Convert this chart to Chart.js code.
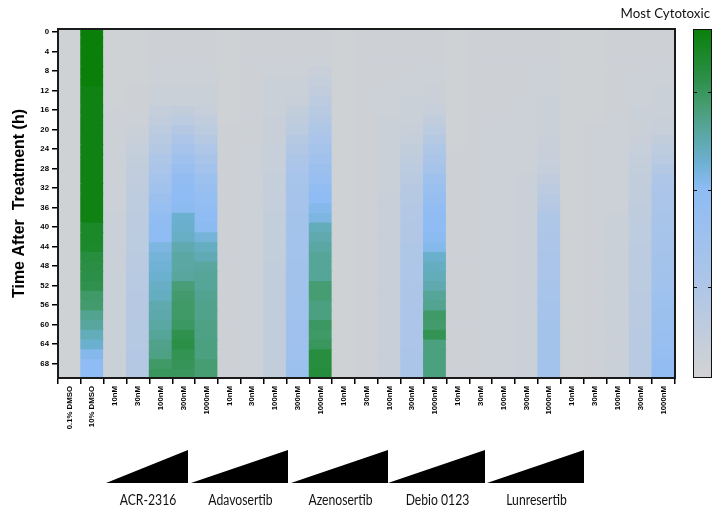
<!DOCTYPE html>
<html>
<head>
<meta charset="utf-8">
<script src="https://cdn.jsdelivr.net/npm/chart.js@4.4.0/dist/chart.umd.min.js"></script>
<style>
  html, body { margin: 0; padding: 0; background: #fff; }
</style>
</head>
<body>
<canvas id="heatmap" width="715" height="513"></canvas>
<script>
// time points (h), one row of cells per point, each row covers 2 h
const timePoints = [0, 2, 4, 6, 8, 10, 12, 14, 16, 18, 20, 22, 24, 26, 28, 30, 32, 34,
                    36, 38, 40, 42, 44, 46, 48, 50, 52, 54, 56, 58, 60, 62, 64, 66, 68, 70];
const timeTicks = [0, 4, 8, 12, 16, 20, 24, 28, 32, 36, 40, 44, 48, 52, 56, 60, 64, 68];

const controls = ['0.1% DMSO', '10% DMSO'];
const drugs = ['ACR-2316', 'Adavosertib', 'Azenosertib', 'Debio 0123', 'Lunresertib'];
const doses = ['10nM', '30nM', '100nM', '300nM', '1000nM'];

// cytotoxicity score, 0 = none, 100 = most cytotoxic
const dmsoLow = [3,3,3,3,3,3,3,3,3,3,3,3,3,3,3,3,3,3,3,3,3,3,3,3,3,3,3,3,3,3,3,3,3,3,3,3];
const dmsoHigh = [100,100,100,100,100,100,98,98,98,98,98,98,98,98,98,98,98,98,98,98,
                  93,93,92,88,87,86,85,80,79,73,71,66,62,56,54,54];

const acr2316 = [
  [3,3,3,3,3,3,3,3,4,4,4,4,5,5,5,5,5,5,5,6,6,6,6,6,6,6,6,6,6,6,6,6,6,6,6,6],
  [3,3,3,3,3,3,4,4,4,5,6,8,10,11,12,13,14,15,15,16,16,17,17,18,18,19,19,20,20,20,21,21,21,22,22,22],
  [4,4,4,4,5,5,6,7,10,13,16,19,22,26,30,34,38,42,47,51,53,54,58,60,61,62,64,65,68,69,70,72,74,75,80,82],
  [4,4,4,4,5,5,6,7,12,17,22,28,34,40,46,50,53,54,55,62,63,64,68,70,70,71,77,79,80,80,81,85,86,84,83,82],
  [4,4,4,4,5,5,6,7,9,13,17,21,26,31,36,41,45,49,52,54,55,60,65,67,71,72,72,73,74,74,75,75,76,76,78,78]
];
const adavosertib = [
  [3,3,3,3,3,3,3,3,3,3,4,4,4,4,4,4,4,4,4,4,4,4,4,4,4,4,4,4,4,4,4,4,4,4,4,4],
  [4,4,4,4,4,4,4,4,4,4,4,4,5,5,5,5,5,5,5,5,5,5,5,5,5,5,5,5,5,5,5,5,5,5,5,5],
  [4,4,4,4,5,6,6,7,7,8,8,8,9,9,9,10,10,10,10,11,11,11,11,11,12,12,12,12,12,12,12,12,12,12,12,12],
  [4,4,4,4,5,6,7,8,11,14,17,21,24,27,30,32,33,34,34,35,35,36,36,36,37,37,37,38,38,38,39,39,40,40,41,42],
  [4,4,4,5,8,10,13,16,19,22,25,30,34,38,42,46,52,54,56,58,66,68,70,72,72,72,78,78,76,76,81,80,82,88,88,89]
];
const azenosertib = [
  [3,3,3,3,3,3,3,3,3,3,3,3,3,3,3,3,3,3,3,3,3,3,3,3,3,3,3,3,3,3,3,3,3,3,3,3],
  [4,4,4,4,4,4,4,4,4,4,4,4,4,4,4,4,4,4,4,4,4,4,4,4,4,4,4,4,4,4,4,4,4,4,4,4],
  [4,4,4,4,4,4,5,5,5,6,6,6,7,7,7,7,7,8,8,8,8,8,8,8,8,8,8,8,8,8,8,8,8,8,8,8],
  [4,4,4,4,4,5,5,6,6,7,8,10,12,14,16,18,20,21,22,23,24,24,25,25,26,26,27,27,28,28,28,28,28,29,29,29],
  [4,4,4,4,5,5,6,7,9,13,17,21,25,29,33,40,44,48,51,53,54,55,56,63,65,66,68,72,73,80,79,84,76,76,76,76]
];
const debio0123 = [
  [3,3,3,3,3,3,3,3,3,3,3,3,4,4,4,4,4,4,4,4,4,4,4,4,4,4,4,4,4,4,4,4,4,4,4,4],
  [4,4,4,4,4,4,4,4,4,4,4,4,4,4,4,4,4,4,4,4,4,4,4,4,4,4,4,4,4,4,4,4,4,4,4,4],
  [4,4,4,4,4,4,4,4,4,4,5,5,5,5,5,5,5,5,5,5,5,5,5,5,5,5,5,5,5,5,5,5,5,5,5,5],
  [4,4,4,4,4,4,4,5,5,5,5,5,5,5,5,6,6,6,6,6,6,6,6,6,6,6,6,6,6,6,6,6,6,6,6,6],
  [4,4,4,4,5,5,5,6,6,7,7,8,8,9,10,13,16,19,22,25,26,27,28,29,30,30,31,32,33,34,35,35,35,35,36,36]
];
const lunresertib = [
  [3,3,3,3,3,3,3,3,3,3,3,3,3,3,3,3,3,3,3,3,3,3,3,3,3,3,3,3,3,3,3,3,3,3,3,3],
  [3,3,3,3,3,3,3,3,3,3,4,4,4,4,4,4,4,4,4,4,4,4,4,4,4,4,4,4,4,4,4,4,4,4,4,4],
  [4,4,4,4,4,4,4,4,4,5,5,5,5,5,5,5,5,5,5,6,6,6,6,6,6,6,6,6,6,6,6,6,6,6,6,6],
  [4,4,4,4,4,5,5,5,6,6,7,8,9,10,11,12,12,13,14,14,15,15,16,16,17,17,17,18,18,18,18,19,19,19,19,19],
  [4,4,4,4,5,5,6,6,7,8,9,12,15,18,22,26,28,30,30,31,32,33,34,35,36,37,38,40,41,42,44,45,46,48,50,52]
];

const groups = [acr2316, adavosertib, azenosertib, debio0123, lunresertib];
const columns = [dmsoLow, dmsoHigh].concat(...groups);
const labels = controls.concat(...drugs.map(() => doses));

// colour ramp: grey -> light blue -> teal -> green
const stops = [
  [0, [211, 211, 211]],
  [26, [174, 198, 231]],
  [54, [143, 188, 244]],
  [62, [108, 176, 208]],
  [70, [90, 167, 164]],
  [78, [70, 157, 114]],
  [86, [44, 143, 72]],
  [100, [10, 128, 10]]
];

function colourFor(v) {
  for (let i = 1; i < stops.length; i++) {
    if (v <= stops[i][0]) {
      const [v0, c0] = stops[i - 1];
      const [v1, c1] = stops[i];
      const f = (v - v0) / (v1 - v0);
      const c = c0.map((x, k) => Math.round(x + (c1[k] - x) * f));
      return `rgb(${c[0]},${c[1]},${c[2]})`;
    }
  }
  const c = stops[stops.length - 1][1];
  return `rgb(${c[0]},${c[1]},${c[2]})`;
}

const datasets = timePoints.map((t, r) => ({
  data: columns.map(() => [t - 1, t + 1]),
  backgroundColor: columns.map(col => colourFor(col[r])),
  borderWidth: 0,
  inflateAmount: 0.6,
  grouped: false,
  categoryPercentage: 1,
  barPercentage: 1
}));

const tickFont = { family: 'Liberation Sans, Arial', weight: 'bold', size: 7.8 };

// squeezed text, closer to the narrow face used for the labels
function narrowText(ctx, text, x, y, squeeze) {
  ctx.save();
  ctx.translate(x, y);
  ctx.scale(squeeze, 1);
  ctx.fillText(text, 0, 0);
  ctx.restore();
}

// grey fill under the cells and the black frame round the plot
const framePlugin = {
  id: 'frame',
  beforeDatasetsDraw(chart) {
    const { ctx, chartArea: a } = chart;
    ctx.save();
    ctx.fillStyle = colourFor(3);
    ctx.fillRect(a.left, a.top, a.right - a.left, a.bottom - a.top);
    ctx.restore();
  },
  afterDatasetsDraw(chart) {
    const { ctx, chartArea: a } = chart;
    ctx.save();
    ctx.strokeStyle = '#1a1a1a';
    ctx.lineWidth = 2;
    ctx.strokeRect(a.left, a.top, a.right - a.left, a.bottom - a.top);
    ctx.restore();
  }
};

// colour bar, dose wedges and drug names
const extrasPlugin = {
  id: 'extras',
  afterDraw(chart) {
    const { ctx, chartArea: a } = chart;
    ctx.save();

    const barX = 693, barW = 19;
    const h = a.bottom - a.top;
    for (let y = 0; y < h; y++) {
      ctx.fillStyle = colourFor(100 * (1 - (y + 0.5) / h));
      ctx.fillRect(barX, a.top + y, barW, 1);
    }
    ctx.strokeStyle = '#111';
    ctx.lineWidth = 1;
    ctx.strokeRect(barX + 0.5, a.top + 0.5, barW - 1, h - 1);
    [26, 54, 82].forEach(v => {
      const y = Math.round(a.bottom - h * v / 100) + 0.5;
      ctx.beginPath();
      ctx.moveTo(barX, y); ctx.lineTo(barX + 4, y);
      ctx.moveTo(barX + barW - 4, y); ctx.lineTo(barX + barW, y);
      ctx.stroke();
    });

    ctx.fillStyle = '#111';
    ctx.font = '14px Lato, "Open Sans", sans-serif';
    ctx.textAlign = 'right';
    ctx.textBaseline = 'middle';
    narrowText(ctx, 'Most Cytotoxic', 710, 13, 0.95);

    const wedges = [[106, 188], [191, 288], [291, 388], [388, 485], [487, 584]];
    ctx.fillStyle = '#000';
    wedges.forEach(([x0, x1]) => {
      ctx.beginPath();
      ctx.moveTo(x0, 483);
      ctx.lineTo(x1, 483);
      ctx.lineTo(x1, 450);
      ctx.closePath();
      ctx.fill();
    });
    ctx.fillStyle = '#111';
    ctx.textAlign = 'center';
    ctx.font = '14.5px Lato, "Open Sans", sans-serif';
    drugs.forEach((d, i) => {
      const [x0, x1] = wedges[i];
      narrowText(ctx, d, (x0 + x1) / 2 + 1, 500, 0.84);
    });

    ctx.restore();
  }
};

new Chart(document.getElementById('heatmap').getContext('2d'), {
  type: 'bar',
  data: { labels: labels, datasets: datasets },
  options: {
    responsive: false,
    animation: false,
    events: [],
    layout: { padding: { top: 29, right: 40, bottom: 0, left: 0 } },
    plugins: { legend: { display: false }, tooltip: { enabled: false } },
    scales: {
      x: {
        grid: { drawOnChartArea: false, drawTicks: true, tickLength: 6, color: '#000', lineWidth: 1.5 },
        border: { display: false },
        ticks: { autoSkip: false, minRotation: 90, maxRotation: 90, font: tickFont, color: '#000', padding: 2 },
        afterFit: s => { s.height = 135; }
      },
      y: {
        reverse: true,
        min: -0.6,
        max: 71,
        grid: { drawOnChartArea: false, drawTicks: true, tickLength: 6, color: '#000', lineWidth: 1.5 },
        border: { display: false },
        ticks: { font: tickFont, color: '#000', padding: 3 },
        afterBuildTicks: s => { s.ticks = timeTicks.map(v => ({ value: v })); },
        title: {
          display: true,
          text: 'Time After  Treatment (h)',
          font: { family: 'Liberation Sans, Arial', weight: 'bold', size: 16 },
          color: '#000',
          padding: { top: 10, bottom: 0 }
        },
        afterFit: s => { s.width = 58; }
      }
    }
  },
  plugins: [framePlugin, extrasPlugin]
});
</script>
</body>
</html>
